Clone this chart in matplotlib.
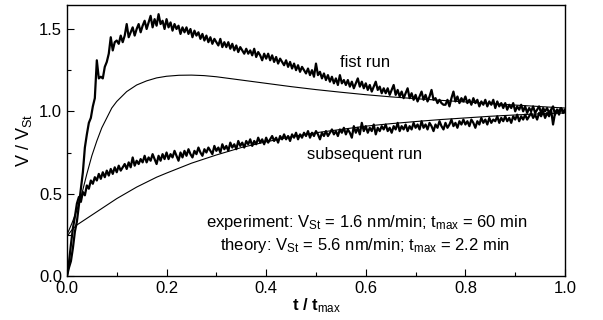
import numpy as np
import matplotlib
matplotlib.use("Agg")
import matplotlib.pyplot as plt
from matplotlib.ticker import MultipleLocator, FormatStrFormatter

matplotlib.rcParams['font.family'] = ['Liberation Sans', 'DejaVu Sans']
matplotlib.rcParams['mathtext.fontset'] = 'custom'
matplotlib.rcParams['mathtext.rm'] = 'Liberation Sans'
matplotlib.rcParams['mathtext.bf'] = 'Liberation Sans:bold'
matplotlib.rcParams['mathtext.it'] = 'Liberation Sans:italic'

# ---------------------------------------------------------------
# Data
# ---------------------------------------------------------------
# measured curves, sampled every 0.004 in t/tmax
t_exp = np.linspace(0.0, 1.0, 251)

first_run = [
    0.00, 0.05, 0.09, 0.17, 0.27, 0.33, 0.43, 0.53, 0.63, 0.78,
    0.86, 0.93, 0.96, 1.03, 1.08, 1.31, 1.20, 1.21, 1.20, 1.27,
    1.30, 1.35, 1.45, 1.37, 1.42, 1.43, 1.41, 1.46, 1.42, 1.46,
    1.53, 1.45, 1.48, 1.51, 1.46, 1.50, 1.53, 1.48, 1.52, 1.55,
    1.50, 1.54, 1.58, 1.51, 1.56, 1.52, 1.59, 1.53, 1.55, 1.50,
    1.56, 1.51, 1.54, 1.49, 1.53, 1.50, 1.52, 1.47, 1.51, 1.48,
    1.51, 1.47, 1.50, 1.45, 1.49, 1.46, 1.48, 1.44, 1.47, 1.43,
    1.46, 1.42, 1.45, 1.41, 1.44, 1.42, 1.40, 1.44, 1.39, 1.42,
    1.39, 1.42, 1.38, 1.41, 1.37, 1.40, 1.36, 1.39, 1.37, 1.35,
    1.38, 1.35, 1.37, 1.34, 1.38, 1.33, 1.36, 1.34, 1.31, 1.35,
    1.32, 1.35, 1.31, 1.34, 1.30, 1.33, 1.29, 1.32, 1.30, 1.28,
    1.31, 1.27, 1.30, 1.26, 1.29, 1.25, 1.28, 1.24, 1.27, 1.25,
    1.23, 1.26, 1.22, 1.25, 1.21, 1.29, 1.22, 1.24, 1.20, 1.23,
    1.19, 1.22, 1.18, 1.21, 1.17, 1.20, 1.16, 1.22, 1.17, 1.19,
    1.16, 1.19, 1.15, 1.18, 1.14, 1.17, 1.20, 1.15, 1.18, 1.14,
    1.17, 1.13, 1.16, 1.12, 1.15, 1.18, 1.13, 1.15, 1.11, 1.14,
    1.11, 1.14, 1.10, 1.13, 1.16, 1.10, 1.13, 1.09, 1.12, 1.08,
    1.11, 1.14, 1.08, 1.11, 1.07, 1.10, 1.06, 1.09, 1.12, 1.07,
    1.10, 1.06, 1.09, 1.13, 1.07, 1.08, 1.05, 1.07, 1.05, 1.04,
    1.04, 1.07, 1.03, 1.08, 1.12, 1.06, 1.09, 1.05, 1.08, 1.06,
    1.09, 1.05, 1.07, 1.04, 1.08, 1.05, 1.07, 1.03, 1.06, 1.04,
    1.07, 1.03, 1.06, 1.04, 1.07, 1.02, 1.06, 1.03, 1.05, 1.02,
    1.05, 1.01, 1.04, 1.02, 1.05, 1.00, 1.03, 1.01, 1.04, 1.00,
    1.03, 0.99, 1.02, 1.00, 1.03, 0.99, 1.01, 1.03, 0.99, 1.02,
    1.00, 1.02, 0.99, 1.01, 1.03, 0.98, 1.01, 1.00, 1.02, 0.99, 1.00,
]

subsequent_run = [
    0.00, 0.08, 0.19, 0.29, 0.36, 0.44, 0.48, 0.45, 0.51, 0.49,
    0.55, 0.53, 0.58, 0.56, 0.60, 0.58, 0.62, 0.59, 0.63, 0.60,
    0.64, 0.61, 0.65, 0.62, 0.66, 0.63, 0.67, 0.64, 0.66, 0.68,
    0.65, 0.69, 0.66, 0.72, 0.67, 0.70, 0.68, 0.71, 0.69, 0.73,
    0.69, 0.72, 0.70, 0.74, 0.71, 0.68, 0.73, 0.70, 0.74, 0.71,
    0.75, 0.71, 0.74, 0.72, 0.76, 0.73, 0.70, 0.75, 0.72, 0.76,
    0.73, 0.77, 0.74, 0.72, 0.76, 0.74, 0.78, 0.75, 0.73, 0.77,
    0.75, 0.78, 0.76, 0.74, 0.79, 0.76, 0.78, 0.75, 0.80, 0.77,
    0.79, 0.76, 0.81, 0.78, 0.80, 0.77, 0.82, 0.79, 0.81, 0.78,
    0.82, 0.80, 0.83, 0.79, 0.82, 0.80, 0.84, 0.81, 0.83, 0.80,
    0.84, 0.81, 0.83, 0.85, 0.82, 0.84, 0.81, 0.85, 0.83, 0.86,
    0.83, 0.85, 0.82, 0.86, 0.84, 0.87, 0.83, 0.86, 0.84, 0.87,
    0.85, 0.88, 0.84, 0.87, 0.85, 0.88, 0.86, 0.83, 0.87, 0.85,
    0.88, 0.85, 0.87, 0.89, 0.86, 0.88, 0.85, 0.89, 0.87, 0.90,
    0.86, 0.89, 0.87, 0.84, 0.91, 0.87, 0.90, 0.86, 0.93, 0.88,
    0.91, 0.87, 0.90, 0.88, 0.92, 0.86, 0.90, 0.88, 0.91, 0.89,
    0.92, 0.88, 0.90, 0.87, 0.91, 0.89, 0.93, 0.88, 0.91, 0.89,
    0.92, 0.88, 0.91, 0.89, 0.93, 0.90, 0.92, 0.89, 0.94, 0.90,
    0.92, 0.89, 0.93, 0.91, 0.88, 0.92, 0.90, 0.94, 0.91, 0.89,
    0.93, 0.90, 0.92, 0.95, 0.91, 0.93, 0.90, 0.94, 0.92, 0.95,
    0.92, 0.94, 0.91, 0.95, 0.93, 0.90, 0.94, 0.92, 0.96, 0.93,
    0.95, 0.92, 0.96, 0.93, 0.95, 0.94, 0.97, 0.93, 0.96, 0.94,
    0.97, 0.94, 0.96, 0.93, 0.97, 0.95, 0.98, 0.94, 0.97, 0.95,
    0.98, 0.95, 0.97, 0.99, 0.96, 0.98, 0.95, 0.99, 0.97, 1.00,
    0.96, 0.99, 0.97, 1.01, 0.92, 0.99, 1.01, 0.98, 1.02, 1.00, 1.01,
]

# theory curves
t_th = [0.0, 0.01, 0.02, 0.03, 0.04, 0.05, 0.06, 0.07, 0.08, 0.09, 0.10,
        0.12, 0.14, 0.16, 0.18, 0.20, 0.225, 0.25, 0.275, 0.30, 0.35, 0.40,
        0.45, 0.50, 0.55, 0.60, 0.65, 0.70, 0.75, 0.80, 0.85, 0.90, 0.95, 1.00]
theory_first = [0.25, 0.32, 0.40, 0.50, 0.62, 0.73, 0.82, 0.90, 0.96, 1.02, 1.06,
                1.12, 1.16, 1.185, 1.203, 1.213, 1.219, 1.22, 1.217, 1.21, 1.19, 1.17,
                1.15, 1.132, 1.116, 1.101, 1.088, 1.077, 1.067, 1.057, 1.047, 1.038,
                1.029, 1.02]
theory_subsequent = [0.24, 0.28, 0.31, 0.33, 0.35, 0.37, 0.39, 0.41, 0.43, 0.45, 0.47,
                     0.505, 0.54, 0.57, 0.60, 0.625, 0.655, 0.685, 0.71, 0.735, 0.78, 0.815,
                     0.845, 0.87, 0.89, 0.91, 0.925, 0.938, 0.95, 0.96, 0.97, 0.978,
                     0.985, 0.99]

# ---------------------------------------------------------------
# Figure
# ---------------------------------------------------------------
fig = plt.figure(figsize=(6.03, 3.2), dpi=100)
ax = fig.add_axes([0.111, 0.1375, 0.826, 0.847])

ax.plot(t_exp, first_run, color='black', linewidth=1.6)
ax.plot(t_exp, subsequent_run, color='black', linewidth=1.6)
ax.plot(t_th, theory_first, color='black', linewidth=0.8)
ax.plot(t_th, theory_subsequent, color='black', linewidth=0.8)

ax.set_xlim(0, 1.0)
ax.set_ylim(0, 1.646)
ax.xaxis.set_major_locator(MultipleLocator(0.2))
ax.xaxis.set_minor_locator(MultipleLocator(0.1))
ax.yaxis.set_major_locator(MultipleLocator(0.5))
ax.yaxis.set_minor_locator(MultipleLocator(0.25))
ax.xaxis.set_major_formatter(FormatStrFormatter('%.1f'))
ax.yaxis.set_major_formatter(FormatStrFormatter('%.1f'))
ax.tick_params(which='both', direction='in', labelsize=12, width=0.8)
ax.tick_params(which='major', length=5)
ax.tick_params(which='minor', length=3)
for s in ax.spines.values():
    s.set_linewidth(1.0)

ax.set_xlabel(r'$\mathbf{t\ /\ t}_{\mathrm{max}}$', fontsize=12, labelpad=0)
ax.set_ylabel(r'V / V$_{\mathrm{St}}$', fontsize=13, labelpad=4)

ax.text(0.598, 1.272, 'fist run', fontsize=12, ha='center', va='baseline')
ax.text(0.598, 0.71, 'subsequent run', fontsize=12, ha='center', va='baseline')
ax.text(0.924, 0.296, r'experiment: V$_{\mathrm{St}}$ = 1.6 nm/min; t$_{\mathrm{max}}$ = 60 min',
        fontsize=12, ha='right', va='baseline')
ax.text(0.890, 0.158, r'theory: V$_{\mathrm{St}}$ = 5.6 nm/min; t$_{\mathrm{max}}$ = 2.2 min',
        fontsize=12, ha='right', va='baseline')

fig.savefig('out.png', dpi=100)
